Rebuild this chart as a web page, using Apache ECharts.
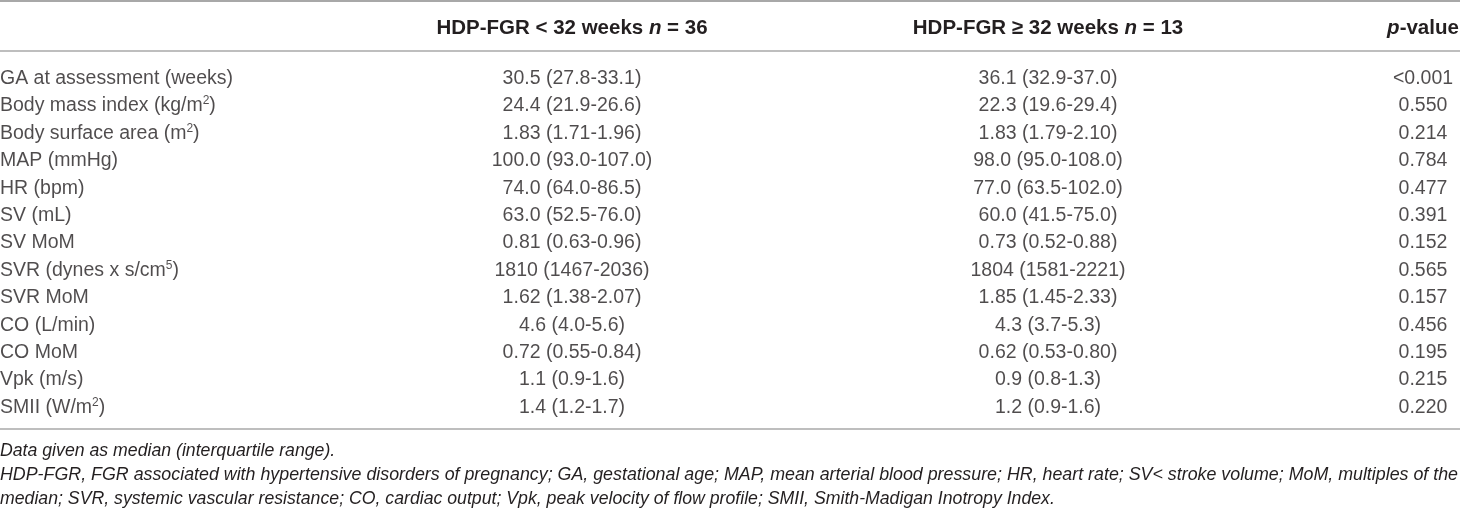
<!DOCTYPE html>
<html>
<head>
<meta charset="utf-8">
<script src="https://cdn.jsdelivr.net/npm/echarts@6/dist/echarts.min.js"></script>
<style>
  html, body { margin: 0; padding: 0; background: #fff; }
  #main { width: 1460px; height: 513px; }
</style>
</head>
<body>
<div id="main"></div>
<script>
// table content
var rowLabels = [
    'GA at assessment (weeks)',
    'Body mass index (kg/m{sup|2})',
    'Body surface area (m{sup|2})',
    'MAP (mmHg)',
    'HR (bpm)',
    'SV (mL)',
    'SV MoM',
    'SVR (dynes x s/cm{sup|5})',
    'SVR MoM',
    'CO (L/min)',
    'CO MoM',
    'Vpk (m/s)',
    'SMII (W/m{sup|2})'
];
var earlyValues = [
    '30.5 (27.8-33.1)', '24.4 (21.9-26.6)', '1.83 (1.71-1.96)', '100.0 (93.0-107.0)',
    '74.0 (64.0-86.5)', '63.0 (52.5-76.0)', '0.81 (0.63-0.96)', '1810 (1467-2036)',
    '1.62 (1.38-2.07)', '4.6 (4.0-5.6)', '0.72 (0.55-0.84)', '1.1 (0.9-1.6)', '1.4 (1.2-1.7)'
];
var lateValues = [
    '36.1 (32.9-37.0)', '22.3 (19.6-29.4)', '1.83 (1.79-2.10)', '98.0 (95.0-108.0)',
    '77.0 (63.5-102.0)', '60.0 (41.5-75.0)', '0.73 (0.52-0.88)', '1804 (1581-2221)',
    '1.85 (1.45-2.33)', '4.3 (3.7-5.3)', '0.62 (0.53-0.80)', '0.9 (0.8-1.3)', '1.2 (0.9-1.6)'
];
var pValues = [
    '<0.001', '0.550', '0.214', '0.784', '0.477', '0.391', '0.152',
    '0.565', '0.157', '0.456', '0.195', '0.215', '0.220'
];
var headers = [
    '',
    'HDP-FGR < 32 weeks {it|n} = 36',
    'HDP-FGR \u2265 32 weeks {it|n} = 13',
    '{it|p}-value'
];
var footnotes = [
    'Data given as median (interquartile range).',
    'HDP-FGR, FGR associated with hypertensive disorders of pregnancy; GA, gestational age; MAP, mean arterial blood pressure; HR, heart rate; SV< stroke volume; MoM, multiples of the',
    'median; SVR, systemic vascular resistance; CO, cardiac output; Vpk, peak velocity of flow profile; SMII, Smith-Madigan Inotropy Index.'
];

var FONT = '"Liberation Sans", Arial, sans-serif';
var TEXT = '#231f20';
var RULE = '#a8a8a8';
var NOTE_FONT = 'italic 17.7px ' + FONT;
var colX = [0, 572, 1048, 1423];    // column anchors in px
var colAlign = ['left', 'center', 'center', 'center'];
var columns = [rowLabels, earlyValues, lateValues, pValues];

// justified paragraph lines get squeezed/stretched to the full width
var measure = document.createElement('canvas').getContext('2d');
measure.font = NOTE_FONT;

var myChart = echarts.init(document.getElementById('main'));

var series = columns.map(function (col, c) {
    return {
        type: 'scatter',
        symbolSize: 0,
        silent: true,
        data: col.map(function (txt, i) { return [colX[c], i, txt]; }),
        label: {
            show: true,
            position: 'inside',
            align: colAlign[c],
            verticalAlign: 'middle',
            color: TEXT,
            fontFamily: FONT,
            fontSize: 19.5,
            lineHeight: 22,
            formatter: function (p) { return p.data[2]; },
            rich: {
                sup: { fontSize: 12, lineHeight: 22, verticalAlign: 'top', color: TEXT, fontFamily: FONT }
            }
        }
    };
});

var graphics = [
    { type: 'line', shape: { x1: 0, y1: 1, x2: 1460, y2: 1 }, style: { stroke: RULE, lineWidth: 2 } },
    { type: 'line', shape: { x1: 0, y1: 51, x2: 1460, y2: 51 }, style: { stroke: RULE, lineWidth: 1.5 } },
    { type: 'line', shape: { x1: 0, y1: 429, x2: 1460, y2: 429 }, style: { stroke: RULE, lineWidth: 1.5 } }
];
headers.forEach(function (h, c) {
    if (!h) return;
    graphics.push({
        type: 'text',
        x: colX[c], y: 28,
        style: {
            text: h,
            align: 'center', verticalAlign: 'middle',
            fill: TEXT, font: 'bold 20.5px ' + FONT,
            rich: { it: { fontStyle: 'italic', fontWeight: 'bold', fontSize: 20.5, fontFamily: FONT, fill: TEXT } }
        }
    });
});
footnotes.forEach(function (f, i) {
    var sx = 1;
    if (i === 1) sx = 1458 / measure.measureText(f).width;
    graphics.push({
        type: 'text',
        x: 0, y: 451 + i * 24,
        scaleX: sx,
        style: {
            text: f,
            align: 'left', verticalAlign: 'middle',
            fill: TEXT, font: NOTE_FONT
        }
    });
});

myChart.setOption({
    animation: false,
    grid: { left: 0, right: 0, top: 65, height: 356, containLabel: false },
    xAxis: { type: 'value', min: 0, max: 1460, show: false },
    yAxis: {
        type: 'category',
        inverse: true,
        show: false,
        data: rowLabels.map(function (d, i) { return i; })
    },
    series: series,
    graphic: graphics
});
</script>
</body>
</html>
